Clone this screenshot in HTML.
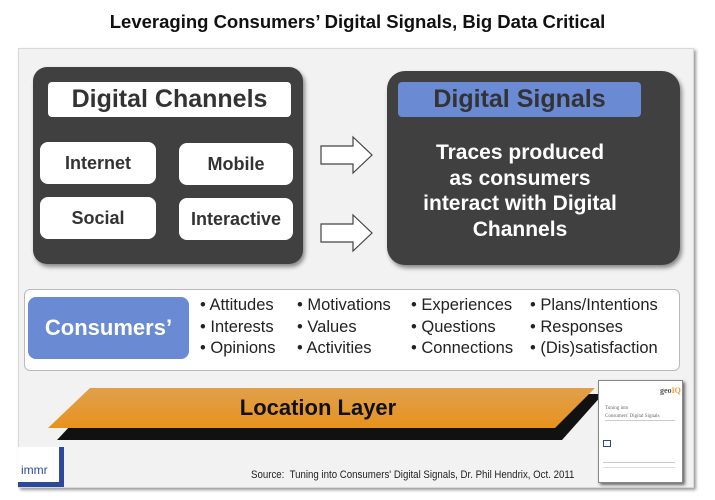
<!DOCTYPE html>
<html><head><meta charset="utf-8"><style>
*{margin:0;padding:0;box-sizing:border-box}
body{width:715px;height:500px;background:#fff;position:relative;overflow:hidden;font-family:"Liberation Sans",Arial,sans-serif}
.a{position:absolute}
.t{font-weight:bold;text-align:center}
.w{background:#fff;border-radius:8px;color:#333;font-weight:bold;display:flex;align-items:center;justify-content:center}
.li{position:absolute;font-size:16.5px;color:#222;line-height:21.5px;white-space:nowrap}
</style></head><body>
<div class="a t" style="left:0;top:11px;width:715px;font-size:18.5px;color:#111">Leveraging Consumers’ Digital Signals, Big Data Critical</div>
<div class="a" style="left:18px;top:48px;width:676px;height:440px;background:#f2f2f2;border:1px solid #d8d8d8;box-shadow:2px 2px 3px #999"></div>
<div class="a" style="left:33px;top:67px;width:270px;height:197px;background:#404040;border-radius:14px;box-shadow:2px 3px 4px #888"></div>
<div class="a w" style="left:48px;top:82px;width:243px;height:35px;border-radius:4px;font-size:25px">Digital Channels</div>
<div class="a w" style="left:40px;top:142px;width:116px;height:42px;font-size:18px">Internet</div>
<div class="a w" style="left:179px;top:143px;width:114px;height:42px;font-size:18px">Mobile</div>
<div class="a w" style="left:40px;top:197px;width:116px;height:42px;font-size:18px">Social</div>
<div class="a w" style="left:179px;top:198px;width:114px;height:42px;font-size:18px">Interactive</div>
<svg class="a" style="left:318px;top:134px" width="58" height="120">
<polygon points="3,12 35,12 35,3 54,21 35,39 35,30 3,30" fill="#fff" stroke="#444" stroke-width="1.2"/>
<polygon points="3,90 35,90 35,81 54,99 35,117 35,108 3,108" fill="#fff" stroke="#444" stroke-width="1.2"/>
</svg>
<div class="a" style="left:387px;top:71px;width:293px;height:194px;background:#404040;border-radius:18px;box-shadow:2px 3px 4px #888"></div>
<div class="a" style="left:398px;top:82px;width:243px;height:35px;background:#6a8ad4;border-radius:4px;color:#333;font-weight:bold;font-size:25px;text-align:center;line-height:35px">Digital Signals</div>
<div class="a t" style="left:395px;top:140px;width:250px;font-size:21px;line-height:25.5px;color:#fff">Traces produced<br>as consumers<br>interact with Digital<br>Channels</div>
<div class="a" style="left:24px;top:289px;width:656px;height:82px;background:#fff;border:1px solid #bbb;border-radius:6px"></div>
<div class="a" style="left:28px;top:297px;width:161px;height:62px;background:#6a8ad4;border-radius:8px;color:#fff;font-weight:bold;font-size:22px;display:flex;align-items:center;justify-content:center">Consumers’</div>
<div class="li" style="left:200px;top:295px">• Attitudes<br>• Interests<br>• Opinions</div>
<div class="li" style="left:297px;top:295px">• Motivations<br>• Values<br>• Activities</div>
<div class="li" style="left:411px;top:295px">• Experiences<br>• Questions<br>• Connections</div>
<div class="li" style="left:530px;top:295px">• Plans/Intentions<br>• Responses<br>• (Dis)satisfaction</div>
<svg class="a" style="left:0;top:380px" width="620" height="70">
<defs><linearGradient id="g" x1="0" y1="0" x2="0" y2="1"><stop offset="0" stop-color="#e0a04c"/><stop offset="1" stop-color="#e8921e"/></linearGradient></defs>
<polygon points="100,14 603,14 562,60 57,60" fill="#111"/>
<polygon points="90,8 595,8 555,48 48,48" fill="url(#g)"/>
</svg>
<div class="a t" style="left:200px;top:395px;width:236px;font-size:22px;color:#111">Location Layer</div>
<div class="a" style="left:18px;top:447px;width:46px;height:40px;background:#fff;border:solid #2c4a9a;border-width:0 5px 5px 0"></div>
<div class="a" style="left:21px;top:463px;font-size:12px;color:#2c4a9a">immr</div>
<div class="a" style="left:251px;top:469px;font-size:11px;color:#222;white-space:nowrap;transform:scaleX(0.88);transform-origin:0 0">Source:&nbsp; Tuning into Consumers' Digital Signals, Dr. Phil Hendrix, Oct. 2011</div>
<div class="a" style="left:598px;top:380px;width:85px;height:103px;background:#fff;border:1px solid #888;box-shadow:2px 2px 3px #666"></div>
<div class="a" style="left:660px;top:386px;font-size:8px;font-weight:bold;color:#555;font-family:'Liberation Serif',serif">geo<span style="color:#e8a030">IQ</span></div>
<div class="a" style="left:605px;top:405px;font-size:5px;color:#666;font-family:'Liberation Serif',serif;line-height:8px">Tuning into<br>Consumers' Digital Signals</div>
<div class="a" style="left:605px;top:420px;width:70px;height:1px;background:#ccc"></div>
<div class="a" style="left:603px;top:440px;width:8px;height:7px;border:1px solid #2c4a9a"></div>
<div class="a" style="left:603px;top:462px;width:72px;height:1px;background:#ccc"></div>
<div class="a" style="left:603px;top:467px;width:72px;height:1px;background:#ddd"></div>
</body></html>
